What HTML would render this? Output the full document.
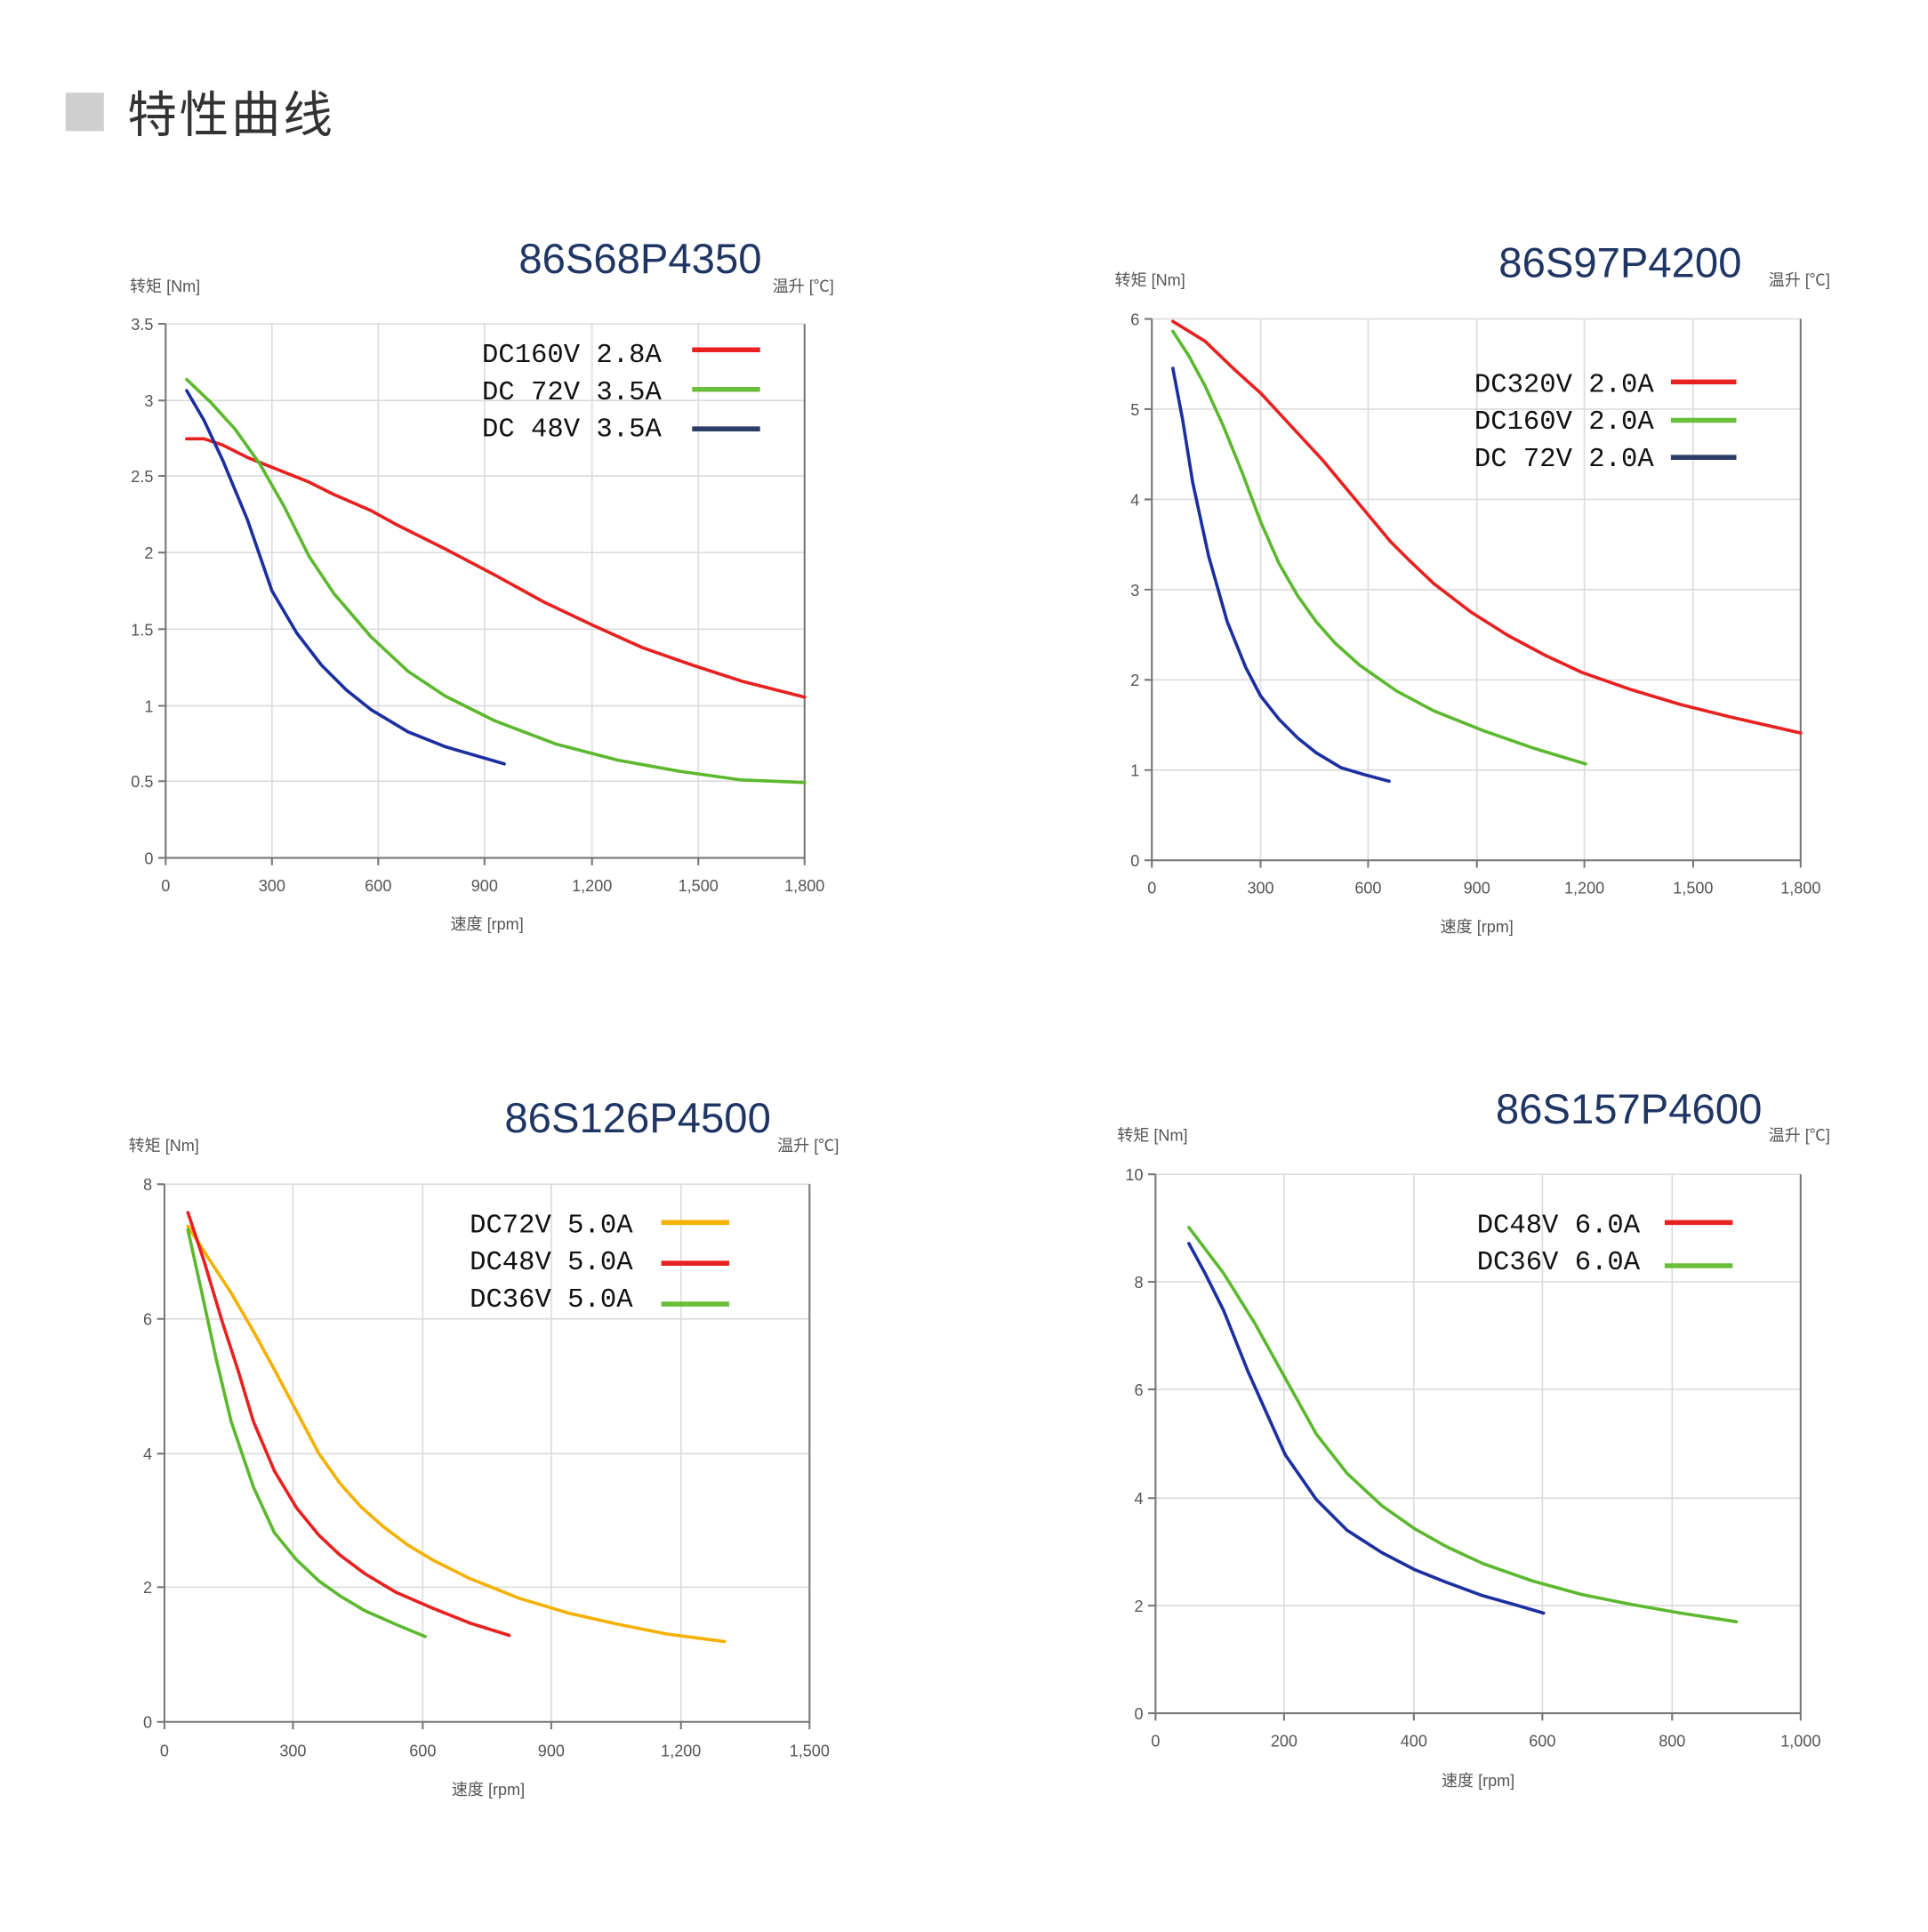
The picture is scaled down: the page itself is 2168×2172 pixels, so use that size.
<!DOCTYPE html>
<html><head><meta charset="utf-8"><style>
html,body{margin:0;padding:0;background:#fff;}
svg{display:block;}
.t{font-family:"Liberation Sans","Noto Sans CJK SC",sans-serif;fill:#555;font-size:13px;}
.ti{font-family:"Liberation Sans",sans-serif;fill:#1f3564;font-size:34px;}
.lg{font-family:"Liberation Mono","DejaVu Sans Mono",monospace;fill:#111;font-size:22px;}
.g{stroke:#dcdcdc;stroke-width:1.2;}
.ax{stroke:#777;stroke-width:1.5;fill:none;}
.c{fill:none;stroke-width:2.6;stroke-linejoin:round;stroke-linecap:round;}
</style></head><body>
<svg width="2168" height="2172" viewBox="0 0 1560 1563" xmlns="http://www.w3.org/2000/svg">
<rect x="53" y="75" width="31" height="31" fill="#cfcfcf"/>
<text x="103" y="107" style="font-family:'Liberation Sans','Noto Sans CJK SC',sans-serif;font-size:40px;letter-spacing:2px;fill:#333">特性曲线</text>

<!-- Chart 1 -->
<g>
<text class="ti" x="518" y="221" text-anchor="middle">86S68P4350</text>
<text class="t" x="105" y="236">转矩 [Nm]</text>
<text class="t" x="625" y="236">温升 [℃]</text>
<g class="g">
<line x1="134" y1="262" x2="651" y2="262"/><line x1="134" y1="324" x2="651" y2="324"/><line x1="134" y1="385" x2="651" y2="385"/><line x1="134" y1="447" x2="651" y2="447"/><line x1="134" y1="509" x2="651" y2="509"/><line x1="134" y1="571" x2="651" y2="571"/><line x1="134" y1="632" x2="651" y2="632"/>
<line x1="220" y1="262" x2="220" y2="694"/><line x1="306" y1="262" x2="306" y2="694"/><line x1="392" y1="262" x2="392" y2="694"/><line x1="479" y1="262" x2="479" y2="694"/><line x1="565" y1="262" x2="565" y2="694"/>
</g>
<path class="ax" d="M134 262V694H651V262M128 262H134M128 324H134M128 385H134M128 447H134M128 509H134M128 571H134M128 632H134M128 694H134M134 694V700M220 694V700M306 694V700M392 694V700M479 694V700M565 694V700M651 694V700"/>
<g class="t" text-anchor="end"><text x="124" y="267">3.5</text><text x="124" y="329">3</text><text x="124" y="390">2.5</text><text x="124" y="452">2</text><text x="124" y="514">1.5</text><text x="124" y="576">1</text><text x="124" y="637">0.5</text><text x="124" y="699">0</text></g>
<g class="t" text-anchor="middle"><text x="134" y="721">0</text><text x="220" y="721">300</text><text x="306" y="721">600</text><text x="392" y="721">900</text><text x="479" y="721">1,200</text><text x="565" y="721">1,500</text><text x="651" y="721">1,800</text><text x="394" y="752">速度 [rpm]</text></g>
<text class="lg" x="390" y="293" xml:space="preserve">DC160V 2.8A</text>
<text class="lg" x="390" y="323" xml:space="preserve">DC 72V 3.5A</text>
<text class="lg" x="390" y="353" xml:space="preserve">DC 48V 3.5A</text>
<line x1="560" y1="283" x2="615" y2="283" stroke="#e82020" stroke-width="4"/>
<line x1="560" y1="315" x2="615" y2="315" stroke="#6abf3a" stroke-width="4"/>
<line x1="560" y1="347" x2="615" y2="347" stroke="#2c3e66" stroke-width="4"/>
<polyline class="c" stroke="#e82020" points="151,355 165,355 180,360 200,370 220,378 250,390 270,400 300,413 320,424 360,444 400,465 440,487 480,506 520,524 560,538 600,551 651,564"/>
<polyline class="c" stroke="#5cb82e" points="151,307 170,325 190,347 210,375 230,410 250,450 270,480 300,515 330,543 360,563 400,583 450,602 500,615 550,624 600,631 651,633"/>
<polyline class="c" stroke="#1c2fa0" points="151,316 165,340 180,372 200,420 220,478 240,512 260,538 280,558 300,574 330,592 360,604 408,618"/>
</g>

<!-- Chart 2 -->
<g>
<text class="ti" x="1311" y="224" text-anchor="middle">86S97P4200</text>
<text class="t" x="902" y="231">转矩 [Nm]</text>
<text class="t" x="1431" y="231">温升 [℃]</text>
<g class="g">
<line x1="932" y1="258" x2="1457" y2="258"/><line x1="932" y1="331" x2="1457" y2="331"/><line x1="932" y1="404" x2="1457" y2="404"/><line x1="932" y1="477" x2="1457" y2="477"/><line x1="932" y1="550" x2="1457" y2="550"/><line x1="932" y1="623" x2="1457" y2="623"/>
<line x1="1020" y1="258" x2="1020" y2="696"/><line x1="1107" y1="258" x2="1107" y2="696"/><line x1="1195" y1="258" x2="1195" y2="696"/><line x1="1282" y1="258" x2="1282" y2="696"/><line x1="1370" y1="258" x2="1370" y2="696"/>
</g>
<path class="ax" d="M932 258V696H1457V258M926 258H932M926 331H932M926 404H932M926 477H932M926 550H932M926 623H932M926 696H932M932 696V702M1020 696V702M1107 696V702M1195 696V702M1282 696V702M1370 696V702M1457 696V702"/>
<g class="t" text-anchor="end"><text x="922" y="263">6</text><text x="922" y="336">5</text><text x="922" y="409">4</text><text x="922" y="482">3</text><text x="922" y="555">2</text><text x="922" y="628">1</text><text x="922" y="701">0</text></g>
<g class="t" text-anchor="middle"><text x="932" y="723">0</text><text x="1020" y="723">300</text><text x="1107" y="723">600</text><text x="1195" y="723">900</text><text x="1282" y="723">1,200</text><text x="1370" y="723">1,500</text><text x="1457" y="723">1,800</text><text x="1195" y="754">速度 [rpm]</text></g>
<text class="lg" x="1193" y="317" xml:space="preserve">DC320V 2.0A</text>
<text class="lg" x="1193" y="347" xml:space="preserve">DC160V 2.0A</text>
<text class="lg" x="1193" y="377" xml:space="preserve">DC 72V 2.0A</text>
<line x1="1352" y1="309" x2="1405" y2="309" stroke="#e82020" stroke-width="4"/>
<line x1="1352" y1="340" x2="1405" y2="340" stroke="#6abf3a" stroke-width="4"/>
<line x1="1352" y1="370" x2="1405" y2="370" stroke="#2c3e66" stroke-width="4"/>
<polyline class="c" stroke="#e82020" points="949,260 975,276 1000,300 1020,318 1045,345 1070,372 1090,396 1110,420 1125,438 1140,453 1160,472 1190,495 1220,514 1250,530 1280,544 1320,558 1360,570 1400,580 1457,593"/>
<polyline class="c" stroke="#5cb82e" points="949,268 962,288 975,312 990,345 1005,382 1020,422 1035,456 1050,482 1065,503 1080,520 1100,538 1130,559 1160,575 1200,591 1240,605 1283,618"/>
<polyline class="c" stroke="#1c2fa0" points="949,298 957,340 965,390 978,450 993,503 1008,540 1020,563 1035,582 1050,597 1065,609 1085,621 1105,627 1124,632"/>
</g>

<!-- Chart 3 -->
<g>
<text class="ti" x="516" y="916" text-anchor="middle">86S126P4500</text>
<text class="t" x="104" y="931">转矩 [Nm]</text>
<text class="t" x="629" y="931">温升 [℃]</text>
<g class="g">
<line x1="133" y1="958" x2="655" y2="958"/><line x1="133" y1="1067" x2="655" y2="1067"/><line x1="133" y1="1176" x2="655" y2="1176"/><line x1="133" y1="1284" x2="655" y2="1284"/>
<line x1="237" y1="958" x2="237" y2="1393"/><line x1="342" y1="958" x2="342" y2="1393"/><line x1="446" y1="958" x2="446" y2="1393"/><line x1="551" y1="958" x2="551" y2="1393"/>
</g>
<path class="ax" d="M133 958V1393H655V958M127 958H133M127 1067H133M127 1176H133M127 1284H133M127 1393H133M133 1393V1399M237 1393V1399M342 1393V1399M446 1393V1399M551 1393V1399M655 1393V1399"/>
<g class="t" text-anchor="end"><text x="123" y="963">8</text><text x="123" y="1072">6</text><text x="123" y="1181">4</text><text x="123" y="1289">2</text><text x="123" y="1398">0</text></g>
<g class="t" text-anchor="middle"><text x="133" y="1421">0</text><text x="237" y="1421">300</text><text x="342" y="1421">600</text><text x="446" y="1421">900</text><text x="551" y="1421">1,200</text><text x="655" y="1421">1,500</text><text x="395" y="1452">速度 [rpm]</text></g>
<text class="lg" x="380" y="997" xml:space="preserve">DC72V 5.0A</text>
<text class="lg" x="380" y="1027" xml:space="preserve">DC48V 5.0A</text>
<text class="lg" x="380" y="1057" xml:space="preserve">DC36V 5.0A</text>
<line x1="535" y1="989" x2="590" y2="989" stroke="#f5b000" stroke-width="4"/>
<line x1="535" y1="1022" x2="590" y2="1022" stroke="#e82020" stroke-width="4"/>
<line x1="535" y1="1055" x2="590" y2="1055" stroke="#6abf3a" stroke-width="4"/>
<polyline class="c" stroke="#f5b000" points="152,992 170,1020 187,1046 205,1077 222,1108 240,1142 258,1176 275,1200 292,1219 310,1235 330,1250 350,1262 380,1277 420,1293 460,1305 500,1314 540,1322 586,1328"/>
<polyline class="c" stroke="#e82020" points="152,981 165,1020 180,1070 193,1110 205,1150 222,1190 240,1220 258,1242 275,1258 295,1273 320,1288 350,1301 380,1313 412,1323"/>
<polyline class="c" stroke="#5cb82e" points="152,995 162,1040 175,1100 187,1150 205,1203 222,1240 240,1262 258,1279 275,1291 295,1303 320,1314 344,1324"/>
</g>

<!-- Chart 4 -->
<g>
<text class="ti" x="1318" y="909" text-anchor="middle">86S157P4600</text>
<text class="t" x="904" y="923">转矩 [Nm]</text>
<text class="t" x="1431" y="923">温升 [℃]</text>
<g class="g">
<line x1="935" y1="950" x2="1457" y2="950"/><line x1="935" y1="1037" x2="1457" y2="1037"/><line x1="935" y1="1124" x2="1457" y2="1124"/><line x1="935" y1="1212" x2="1457" y2="1212"/><line x1="935" y1="1299" x2="1457" y2="1299"/>
<line x1="1039" y1="950" x2="1039" y2="1386"/><line x1="1144" y1="950" x2="1144" y2="1386"/><line x1="1248" y1="950" x2="1248" y2="1386"/><line x1="1353" y1="950" x2="1353" y2="1386"/>
</g>
<path class="ax" d="M935 950V1386H1457V950M929 950H935M929 1037H935M929 1124H935M929 1212H935M929 1299H935M929 1386H935M935 1386V1392M1039 1386V1392M1144 1386V1392M1248 1386V1392M1353 1386V1392M1457 1386V1392"/>
<g class="t" text-anchor="end"><text x="925" y="955">10</text><text x="925" y="1042">8</text><text x="925" y="1129">6</text><text x="925" y="1217">4</text><text x="925" y="1304">2</text><text x="925" y="1391">0</text></g>
<g class="t" text-anchor="middle"><text x="935" y="1413">0</text><text x="1039" y="1413">200</text><text x="1144" y="1413">400</text><text x="1248" y="1413">600</text><text x="1353" y="1413">800</text><text x="1457" y="1413">1,000</text><text x="1196" y="1445">速度 [rpm]</text></g>
<text class="lg" x="1195" y="997" xml:space="preserve">DC48V 6.0A</text>
<text class="lg" x="1195" y="1027" xml:space="preserve">DC36V 6.0A</text>
<line x1="1347" y1="989" x2="1402" y2="989" stroke="#e82020" stroke-width="4"/>
<line x1="1347" y1="1024" x2="1402" y2="1024" stroke="#6abf3a" stroke-width="4"/>
<polyline class="c" stroke="#5cb82e" points="962,993 990,1030 1015,1070 1040,1115 1065,1160 1090,1192 1118,1218 1145,1237 1170,1251 1200,1265 1240,1279 1280,1290 1320,1298 1360,1305 1405,1312"/>
<polyline class="c" stroke="#1c2fa0" points="962,1006 975,1030 990,1060 1010,1110 1040,1177 1065,1213 1090,1238 1118,1256 1145,1270 1170,1280 1200,1291 1225,1298 1249,1305"/>
</g>
</svg>
</body></html>
